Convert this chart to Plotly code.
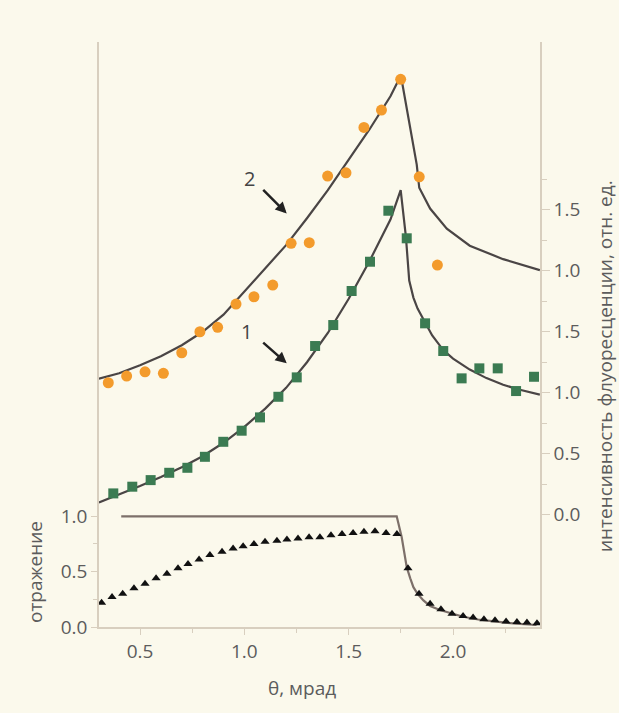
import plotly.graph_objects as go

# ---------------- data ----------------
# reflection (left axis)
refl_theta = [0.316, 0.366, 0.417, 0.471, 0.524, 0.577, 0.629, 0.682, 0.730, 0.783,
              0.835, 0.893, 0.946, 0.994, 1.046, 1.099, 1.156, 1.204, 1.257, 1.310,
              1.362, 1.415, 1.468, 1.521, 1.573, 1.626, 1.679, 1.731, 1.784, 1.837,
              1.890, 1.942, 1.995, 2.048, 2.096, 2.148, 2.201, 2.254, 2.306, 2.354, 2.402]
refl_vals = [0.22, 0.27, 0.30, 0.35, 0.39, 0.44, 0.48, 0.53, 0.57, 0.61,
             0.65, 0.68, 0.71, 0.73, 0.75, 0.77, 0.78, 0.79, 0.80, 0.81,
             0.81, 0.83, 0.84, 0.85, 0.86, 0.865, 0.85, 0.84, 0.53, 0.30,
             0.21, 0.16, 0.12, 0.10, 0.085, 0.07, 0.06, 0.05, 0.045, 0.04, 0.035]
refl_line_theta = [0.41, 1.73, 1.754, 1.778, 1.795, 1.81, 1.83, 1.858, 1.89, 1.937,
                   2.049, 2.12, 2.209, 2.30, 2.40]
refl_line_vals = [1.0, 1.0, 0.81, 0.54, 0.44, 0.36, 0.30, 0.24, 0.19, 0.153,
                  0.093, 0.068, 0.048, 0.03, 0.018]

# fluorescence curve 1 (right axis, lower scale)
c1_theta = [0.372, 0.463, 0.551, 0.640, 0.727, 0.811, 0.899, 0.987, 1.075, 1.163,
            1.251, 1.339, 1.426, 1.514, 1.602, 1.690, 1.778, 1.866, 1.953, 2.041,
            2.126, 2.214, 2.302, 2.388]
c1_vals = [0.175, 0.230, 0.284, 0.344, 0.385, 0.475, 0.598, 0.689, 0.798, 0.967,
           1.126, 1.383, 1.555, 1.834, 2.074, 2.492, 2.266, 1.569, 1.342, 1.118,
           1.200, 1.200, 1.014, 1.131]
c1_line_theta = [0.303, 0.40, 0.50, 0.60, 0.70, 0.80, 0.90, 1.00, 1.10, 1.20, 1.30,
                 1.40, 1.50, 1.60, 1.70, 1.749, 1.774, 1.79, 1.81, 1.83, 1.866, 1.90,
                 1.953, 2.00, 2.08, 2.16, 2.24, 2.32, 2.416]
c1_line_vals = [0.10, 0.165, 0.235, 0.31, 0.39, 0.48, 0.59, 0.72, 0.87, 1.04, 1.25,
                1.49, 1.77, 2.08, 2.42, 2.66, 2.28, 1.92, 1.78, 1.69, 1.57, 1.47,
                1.35, 1.28, 1.19, 1.12, 1.065, 1.025, 0.985]

# fluorescence curve 2 (right axis, upper shifted scale)
c2_theta = [0.348, 0.436, 0.524, 0.612, 0.700, 0.787, 0.872, 0.960, 1.046, 1.136,
            1.224, 1.311, 1.399, 1.487, 1.573, 1.657, 1.749, 1.838, 1.925]
c2_vals = [0.082, 0.137, 0.172, 0.159, 0.328, 0.500, 0.536, 0.727, 0.787, 0.883,
           1.225, 1.230, 1.776, 1.803, 2.175, 2.317, 2.569, 1.770, 1.047]
c2_line_theta = [0.303, 0.40, 0.50, 0.60, 0.70, 0.80, 0.90, 1.00, 1.10, 1.20, 1.30,
                 1.40, 1.50, 1.60, 1.70, 1.750, 1.826, 1.838, 1.89, 1.97, 2.08,
                 2.24, 2.416]
c2_line_vals = [0.115, 0.16, 0.225, 0.30, 0.39, 0.50, 0.64, 0.83, 1.02, 1.21, 1.43,
                1.66, 1.91, 2.16, 2.43, 2.60, 1.87, 1.68, 1.51, 1.345, 1.205,
                1.095, 1.005]
C2_OFFSET = 1.0

right_tick_vals = [0.0, 0.5, 1.0, 1.5]
right_tick_text = ["0.0", "0.5", "1.0", "1.5"]
upper_tick_vals = [1.0, 1.5]
left_tick_vals = [0.0, 0.5, 1.0]
x_tick_vals = [0.5, 1.0, 1.5, 2.0]

# ---------------- styling ----------------
BG = "#fbf9ec"
AXIS = "#d8cfbf"
TXT = "#5c5c5c"
FONT = "Open Sans"
LINE = "#4a4545"
GREEN = "#3b7b52"
ORANGE = "#f39b2c"

fig = go.Figure()

c2_line_shift = [v + C2_OFFSET for v in c2_line_vals]
c2_shift = [v + C2_OFFSET for v in c2_vals]

fig.add_trace(go.Scatter(x=refl_line_theta, y=refl_line_vals, mode="lines",
                         line=dict(color="#7d706a", width=2.2), yaxis="y"))
fig.add_trace(go.Scatter(x=refl_theta, y=refl_vals, mode="markers",
                         marker=dict(symbol="triangle-up", size=8, color="#111"), yaxis="y"))
fig.add_trace(go.Scatter(x=c1_line_theta, y=c1_line_vals, mode="lines",
                         line=dict(color=LINE, width=2.2), yaxis="y2"))
fig.add_trace(go.Scatter(x=c2_line_theta, y=c2_line_shift, mode="lines",
                         line=dict(color=LINE, width=2.2), yaxis="y2"))
fig.add_trace(go.Scatter(x=c1_theta, y=c1_vals, mode="markers",
                         marker=dict(symbol="square", size=10, color=GREEN), yaxis="y2"))
fig.add_trace(go.Scatter(x=c2_theta, y=c2_shift, mode="markers",
                         marker=dict(symbol="circle", size=11, color=ORANGE), yaxis="y2"))

r_vals = right_tick_vals + [v + C2_OFFSET for v in upper_tick_vals]
r_text = right_tick_text + ["%.1f" % v for v in upper_tick_vals]
r_minor = [0.25, 0.75, 1.25, 1.75, 2.25, 2.75]

fig.update_layout(
    width=619, height=713,
    margin=dict(l=99, r=79, t=42, b=86),
    paper_bgcolor=BG, plot_bgcolor=BG,
    showlegend=False,
    font=dict(family=FONT, color=TXT, size=19),
    xaxis=dict(range=[0.3035, 2.4166], showline=True, linecolor=AXIS, linewidth=1.5,
               showgrid=False, zeroline=False, tickvals=x_tick_vals, tickformat=".1f",
               ticks="outside", ticklen=6, tickcolor=AXIS, tickwidth=1.2,
               minor=dict(tickvals=[0.75, 1.25, 1.75, 2.25], ticklen=4, tickcolor=AXIS,
                          ticks="outside"),
               tickfont=dict(size=19, color=TXT), ticklabelstandoff=0),
    yaxis=dict(range=[0, 5.285], showline=True, linecolor=AXIS, linewidth=1.5,
               showgrid=False, zeroline=False, tickvals=left_tick_vals, tickformat=".1f",
               ticks="outside", ticklen=6, tickcolor=AXIS, tickwidth=1.2,
               minor=dict(tickvals=[0.25, 0.75], ticklen=4, tickcolor=AXIS, ticks="outside"),
               tickfont=dict(size=19, color=TXT)),
    yaxis2=dict(range=[-0.920, 3.875], overlaying="y", side="right", showline=True,
                linecolor=AXIS, linewidth=1.5, showgrid=False, zeroline=False,
                tickvals=r_vals, ticktext=r_text, ticks="outside", ticklen=8,
                tickcolor=AXIS, tickwidth=1.2,
                minor=dict(tickvals=r_minor, ticklen=5, tickcolor=AXIS, ticks="outside"),
                tickfont=dict(size=19, color=TXT)),
)

annotations = [
    dict(text="θ, мрад", xref="paper", yref="paper", x=(302 - 99) / 441, y=-61 / 585,
         showarrow=False, font=dict(size=19, color=TXT), xanchor="center", yanchor="middle"),
    dict(text="отражение", xref="paper", yref="paper", x=-64 / 441, y=(627 - 572) / 585,
         showarrow=False, textangle=-90, font=dict(size=19, color=TXT),
         xanchor="center", yanchor="middle"),
    dict(text="интенсивность флуоресценции, отн. ед.", xref="paper", yref="paper",
         x=(605 - 99) / 441, y=(627 - 366) / 585, showarrow=False, textangle=-90,
         font=dict(size=19, color=TXT), xanchor="center", yanchor="middle"),
    dict(text="2", xref="x", yref="y2", x=1.027, y=2.76, showarrow=False,
         font=dict(size=20, color="#444")),
    dict(text="", xref="x", yref="y2", x=1.203, y=2.470, ax=-25, ay=-25,
         showarrow=True, arrowhead=2, arrowsize=0.9, arrowwidth=2.5, arrowcolor="#222"),
    dict(text="1", xref="x", yref="y2", x=1.011, y=1.50, showarrow=False,
         font=dict(size=20, color="#444")),
    dict(text="", xref="x", yref="y2", x=1.203, y=1.241, ax=-25, ay=-22,
         showarrow=True, arrowhead=2, arrowsize=0.9, arrowwidth=2.5, arrowcolor="#222"),
]
fig.update_layout(annotations=annotations)

fig.write_html("out.html")
